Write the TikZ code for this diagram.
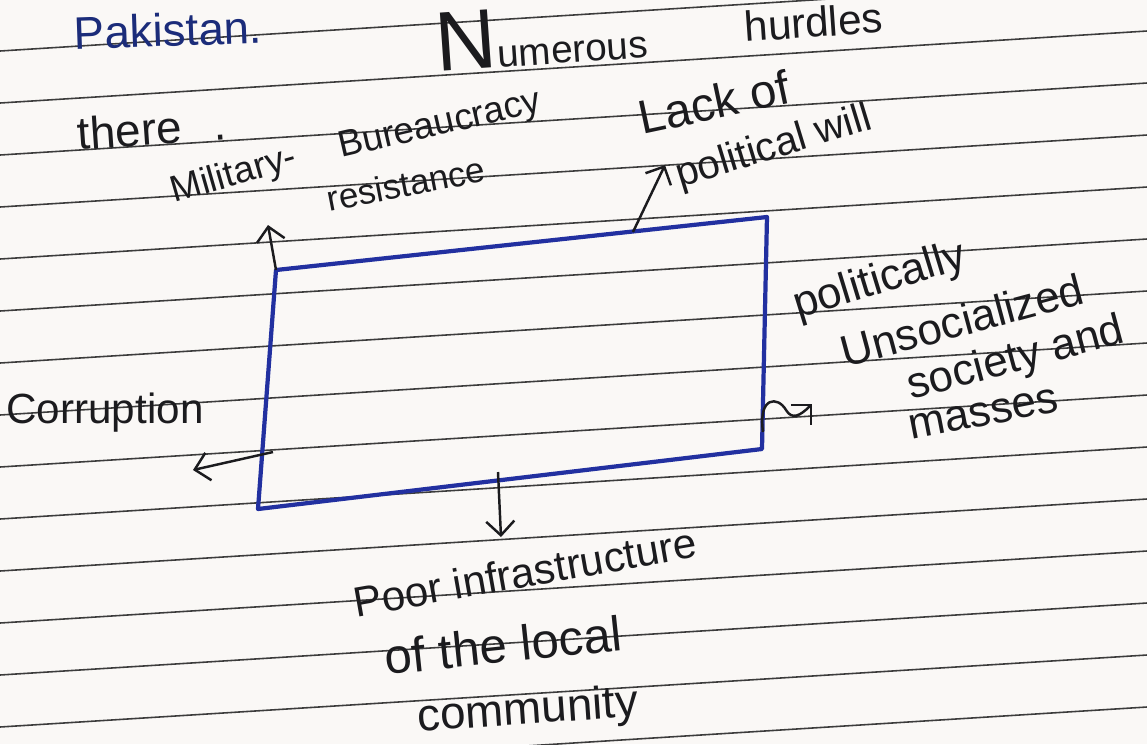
\documentclass[tikz,border=0pt]{standalone}
\usepackage{fontspec}
\setmainfont{Liberation Sans}
\usetikzlibrary{arrows.meta}
\definecolor{ink}{HTML}{1B1B1E}
\definecolor{penblue}{HTML}{1B2C7A}
\definecolor{boxblue}{HTML}{2230A0}
\definecolor{ruleline}{HTML}{3C3C3C}
\definecolor{paper}{HTML}{FAF8F6}
\tikzset{
  hand/.style={inner sep=0pt, text=ink, font=\fontsize{12}{14}\selectfont},
  rule/.style={draw=ruleline, line width=0.45pt},
  box/.style={draw=boxblue, line width=1.2pt, line join=round},
  arrow/.style={draw=ink, line width=0.7pt, -{Straight Barb[length=4pt,width=8pt]}}
}

\begin{document}
\begin{tikzpicture}[x=0.01cm, y=-0.01cm]
  \fill[paper] (0,0) rectangle (1147,744);
  \useasboundingbox (0,0) rectangle (1147,744);
  % ruled lines of the page
  \foreach \k in {0,...,14}
    \draw[rule] (0,51+52*\k) -- (1147,-21+52*\k);

  % heading
  \node (pak) [hand, text=penblue, font=\fontsize{13}{15}\selectfont, rotate=2] at (168,30) {Pakistan.};
  \node (num) [hand, anchor=base west, rotate=4, font=\fontsize{11}{13}\selectfont] at (437,72) {{\fontsize{24}{24}\selectfont N}umerous};
  \node (hur) [hand, anchor=base west, rotate=4] at (745,42) {hurdles};
  \node (there) [hand, anchor=base west, rotate=4, font=\fontsize{13}{15}\selectfont] at (78,150) {there\hspace{9pt}.};

  % the box
  \coordinate (tl) at (276,270);
  \coordinate (tr) at (767,217);
  \coordinate (br) at (762,449);
  \coordinate (bl) at (258,509);
  \draw[box] (tl) -- (tr) -- (br) -- (bl) -- cycle;

  % hurdles around it
  \node (mil) [hand, rotate=16, font=\fontsize{10.5}{12}\selectfont] at (234,176) {Military-};
  \node (bur) [hand, rotate=13, font=\fontsize{10.5}{12}\selectfont] at (440,126) {Bureaucracy};
  \node (res) [hand, rotate=11, font=\fontsize{10}{12}\selectfont] at (406,184) {resistance};
  \node (lack) [hand, rotate=12, font=\fontsize{13.5}{16}\selectfont] at (714,102) {Lack of};
  \node (will) [hand, rotate=17, font=\fontsize{11.5}{13}\selectfont] at (774,148) {political will};
  \node (corr) [hand] at (105,413) {Corruption};
  \node (pol) [hand, rotate=17, font=\fontsize{12.5}{15}\selectfont] at (880,282) {politically};
  \node (unsoc) [hand, rotate=15, font=\fontsize{12.5}{15}\selectfont] at (962,320) {Unsocialized};
  \node (soc) [hand, rotate=15, font=\fontsize{12.5}{15}\selectfont] at (1016,360) {society and};
  \node (mass) [hand, rotate=11, font=\fontsize{12.5}{15}\selectfont] at (984,414) {masses};
  \node (poor) [hand, rotate=10] at (525,572) {Poor infrastructure};
  \node (local) [hand, rotate=6, font=\fontsize{14}{16}\selectfont] at (503,645) {of the local};
  \node (comm) [hand, rotate=4, font=\fontsize{13}{15}\selectfont] at (528,712) {community};

  % arrows out of the box
  \coordinate (topPt) at (633,232);
  \coordinate (leftPt) at (273,452);
  \coordinate (rightPt) at (763,432);
  \coordinate (botPt) at (498,472);
  \coordinate (milTip) at (268,225);
  \coordinate (lackTip) at (665,165);
  \coordinate (corrTip) at (193,470);
  \coordinate (sqTip) at (812,404);
  \coordinate (poorTip) at (501,537);
  \draw[arrow] (tl) -- (milTip);
  \draw[arrow] (topPt) -- (lackTip);
  \draw[arrow] (leftPt) -- (corrTip);
  \draw[arrow] (botPt) -- (poorTip);
  \draw[arrow] (rightPt) .. controls (758,396) and (778,396) .. (786,410) .. controls (792,420) and (800,416) .. (sqTip);
\end{tikzpicture}
\end{document}
